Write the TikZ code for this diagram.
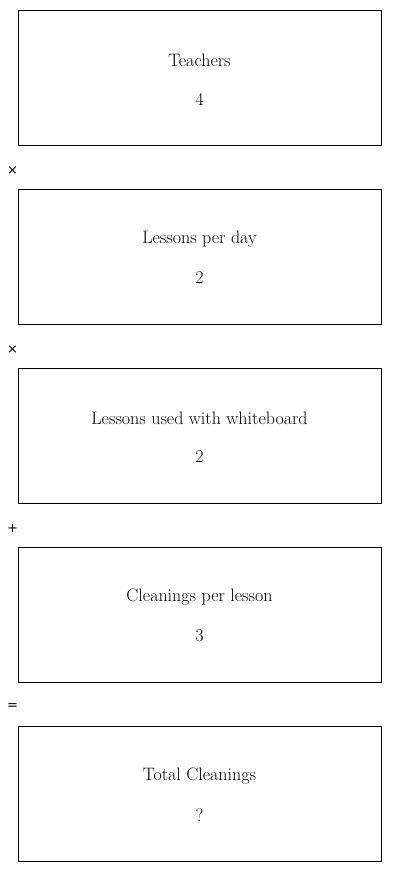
\documentclass[tikz,border=0pt]{standalone}
\usepackage{fontspec}
\newfontfamily\opfont{DejaVu Sans}
\begin{document}
\begin{tikzpicture}[x=1pt,y=-1pt,
  stepbox/.style={draw=black, line width=1pt, minimum width=363pt, minimum height=135pt, inner sep=0pt},
  lbl/.style={font=\fontsize{18}{20}\selectfont},
  op/.style={font=\opfont\fontsize{13}{15}\selectfont}]
\useasboundingbox (0,0) rectangle (400,872);
\foreach \i/\t/\v in {0/Teachers/4, 1/Lessons per day/2, 2/Lessons used with whiteboard/2, 3/Cleanings per lesson/3, 4/Total Cleanings/?}{
  \node[stepbox] (b\i) at (199.5,78+179*\i) {};
  \node[lbl] (t\i) at (199.5,60+179*\i) {\t};
  \node[lbl] (v\i) at (199.5,99+179*\i) {\v};
}
\node[op] (o1) at (12.5,170.5) {×};
\node[op] (o2) at (12.5,349.5) {×};
\node[op] (o3) at (12.5,528) {+};
\node[op] (o4) at (12.5,707) {=};
\end{tikzpicture}
\end{document}
